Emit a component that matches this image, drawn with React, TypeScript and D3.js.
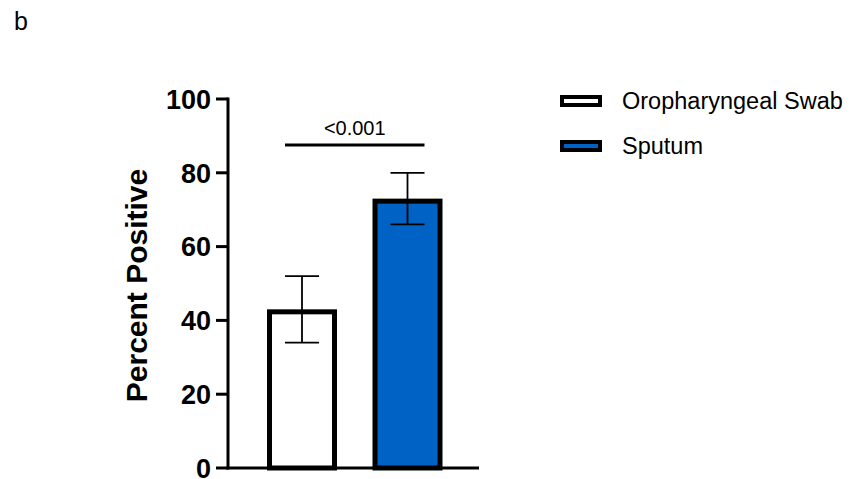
import React from "react";
import * as d3 from "d3";

const categories = ["Oropharyngeal Swab", "Sputum"];
const values = [43, 73];
const errLow = [34, 66];
const errHigh = [52, 80];
const fills = ["#ffffff", "#0062c4"];
const yTicks = [0, 20, 40, 60, 80, 100];
const pLabel = "<0.001";

export default function App() {
  const W = 867, H = 479;
  const y = d3.scaleLinear().domain([0, 100]).range([468, 99]);
  const x = d3.scalePoint().domain(categories).range([302, 407.5]).padding(0);
  const bw = 65;
  const cx = (c: string) => x(c) as number;
  const font = "Arial, 'Liberation Sans', Helvetica, sans-serif";
  return (
    <svg width={W} height={H} style={{ position: "absolute", left: 0, top: 0 }} fontFamily={font}>
      <rect width={W} height={H} fill="#fff" />
      <text x={14} y={30} fontSize={25}>b</text>
      {/* bars */}
      {categories.map((c, i) => (
        <g key={c}>
          <rect x={cx(c) - bw / 2} y={y(values[i]) + 2.5} width={bw} height={y(0) - y(values[i]) - 2.5}
            fill={fills[i]} stroke="#000" strokeWidth={5} />
          <line x1={cx(c)} x2={cx(c)} y1={y(errLow[i])} y2={y(errHigh[i])} stroke="#000" strokeWidth={1.8} />
          <line x1={cx(c) - 17} x2={cx(c) + 17} y1={y(errLow[i])} y2={y(errLow[i])} stroke="#000" strokeWidth={1.8} />
          <line x1={cx(c) - 17} x2={cx(c) + 17} y1={y(errHigh[i])} y2={y(errHigh[i])} stroke="#000" strokeWidth={1.8} />
        </g>
      ))}
      {/* axes */}
      <line x1={228} x2={228} y1={y(100) - 1.5} y2={y(0) + 1.5} stroke="#000" strokeWidth={3} />
      <line x1={226.5} x2={479} y1={y(0)} y2={y(0)} stroke="#000" strokeWidth={3} />
      {yTicks.map((t) => (
        <g key={t}>
          <line x1={216} x2={228} y1={y(t)} y2={y(t)} stroke="#000" strokeWidth={3} />
          <text x={211} y={y(t)} dy="0.36em" textAnchor="end" fontSize={27} fontWeight="bold">{t}</text>
        </g>
      ))}
      <text transform={`translate(147,${y(50) + 2}) rotate(-90)`} textAnchor="middle" fontSize={30} fontWeight="bold">Percent Positive</text>
      {/* significance */}
      <line x1={cx(categories[0]) - 17} x2={cx(categories[1]) + 17} y1={145} y2={145} stroke="#000" strokeWidth={3} />
      <text x={(cx(categories[0]) + cx(categories[1])) / 2} y={135} textAnchor="middle" fontSize={20}>{pLabel}</text>
      {/* legend */}
      {categories.map((c, i) => (
        <g key={"l" + c} transform={`translate(0,${101 + i * 45})`}>
          <rect x={562} y={-4} width={38} height={8} fill={fills[i]} stroke="#000" strokeWidth={4} />
          <text x={622} y={0} dy="0.36em" fontSize={23.5}>{c}</text>
        </g>
      ))}
    </svg>
  );
}
